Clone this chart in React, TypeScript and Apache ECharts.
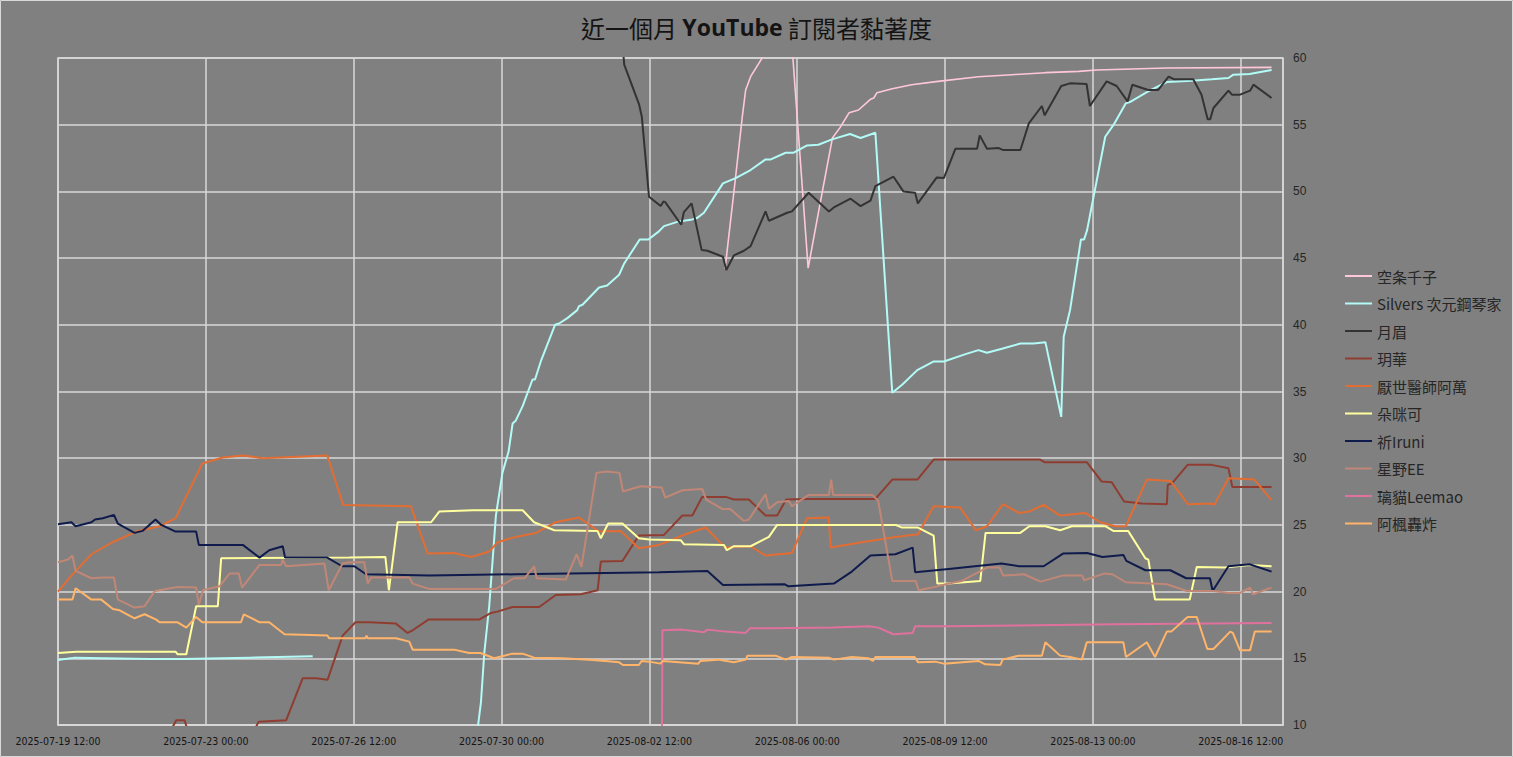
import React, { useEffect, useRef } from "react";
import * as echarts from "echarts";

// hours since 2025-07-19 12:00, value
const START_UTC = Date.UTC(2025, 6, 19, 12, 0);
const X_MAX_HOURS = 696;
const X_STEP_HOURS = 84;

const seriesNames = [
  "空条千子",
  "Silvers 次元鋼琴家",
  "月眉",
  "玥華",
  "厭世醫師阿萬",
  "朵咪可",
  "祈Iruni",
  "星野EE",
  "璃貓Leemao",
  "阿楓轟炸",
];

const seriesColors = [
  "#FFC8DA",
  "#B2FBF7",
  "#333333",
  "#8E3D30",
  "#E26D33",
  "#FFFF9E",
  "#0F1B4C",
  "#C08777",
  "#E0719D",
  "#FFB46A",
];

const kujo: any[] = [[379,44.2],[385,51.1],[388.8,55.6],[390.7,57.6],[393.5,58.6],[401,60.2],[417,61],[426.2,44.25],[432.3,48.6],[438,52.6],[440,54.0],[444.4,54.8],[449.5,55.9],[454.8,56.1],[461.6,56.9],[463.5,57.0],[465.3,57.4],[474,57.7],[485,58.0],[500,58.25],[523,58.6],[542,58.75],[561,58.9],[580,59.0],[590,59.1],[630,59.25],[689.5,59.3]];

const silvers: any[] = [[0,14.88],[9.5,15.05],[52,14.95],[70.8,14.95],[108.8,15.05],[144.7,15.15],[190,"-"],[233,4],[240.3,11.7],[242.2,15.4],[245,18.9],[248.8,25.7],[252.5,28.9],[256,30.5],[258.3,32.6],[260,32.8],[264,33.9],[269.6,35.9],[271,35.9],[274.3,37.25],[282.4,40.0],[284.7,40.1],[289.4,40.5],[295,41.1],[296,41.4],[298,41.5],[307.4,42.8],[312,42.95],[318.8,43.75],[321.7,44.6],[330.5,46.4],[335.4,46.4],[341.4,47.0],[344.3,47.4],[352.8,47.75],[360.4,47.9],[363,48.0],[367,48.4],[377.8,50.6],[385,51.0],[393.5,51.6],[402,52.4],[405,52.4],[413.4,52.9],[418,52.9],[425.6,53.45],[432,53.5],[439.8,53.9],[450,54.3],[456,54.0],[464.4,54.4],[474,34.9],[479.6,35.5],[488.2,36.6],[497.6,37.25],[503.3,37.25],[515.6,37.8],[523,38.1],[527.8,37.9],[536.3,38.2],[546.8,38.6],[554.3,38.6],[561,38.7],[570,33.1],[571.4,39.1],[575,41.1],[581.2,46.4],[583,46.4],[584.7,47.1],[595,54.1],[599.8,55.0],[606.7,56.6],[609,56.7],[619.4,57.5],[630,58.2],[644,58.3],[655.5,58.4],[665,58.5],[667.8,58.75],[677,58.8],[689.5,59.1]];

const yuemei: any[] = [[320.5,61.5],[321.7,59.5],[330.2,56.5],[331.7,55.6],[335.8,49.6],[342.4,48.9],[344,49.25],[345,49.2],[354.1,47.5],[355.6,48.45],[360,49.1],[365.7,45.6],[369,45.55],[377.8,45.1],[379.7,44.1],[384,45.2],[389.7,45.55],[393.5,45.9],[402,48.5],[403.9,47.8],[414.3,48.4],[417,48.5],[426.5,49.9],[438,48.5],[440.8,48.8],[450.3,49.45],[456,48.9],[461.6,49.3],[464.4,50.4],[474.7,51.1],[480.3,50.0],[487,49.9],[488.5,49.1],[499.3,51.05],[503.3,51.0],[509.9,53.2],[522.2,53.2],[523.7,54.2],[527.8,53.2],[534.5,53.25],[537,53.1],[546.8,53.1],[551.6,55.1],[559,56.4],[560.6,55.7],[570,57.9],[575,58.1],[584.4,58.05],[586.3,56.4],[595.8,58.25],[601.5,57.9],[607.7,56.75],[610.4,58.0],[619.4,57.6],[625,57.6],[631,58.6],[634.3,58.4],[645,58.4],[649.7,57.25],[653.2,55.4],[654.6,55.4],[656.5,56.25],[665,57.55],[667,57.25],[671.6,57.25],[677.3,57.55],[679.2,58.0],[689.5,57.0]];

const yuehua: any[] = [[0,8.5],[62,9.3],[64.5,9.7],[67.2,10.35],[71.9,10.35],[73.5,9.7],[111.5,9.6],[114,10.25],[129.6,10.35],[139,13.5],[146.6,13.5],[153.2,13.4],[161.7,16.7],[169,17.7],[177,17.7],[192,17.6],[198.6,16.9],[201.5,17.1],[210.4,17.9],[239.3,17.9],[246,18.4],[249.7,18.5],[258.2,18.85],[273.4,18.85],[282.8,19.75],[297,19.8],[306.6,20.1],[308.4,22.25],[320.7,22.3],[330,24.2],[344.3,24.25],[354.7,25.7],[360.4,25.7],[366,27.1],[379.3,27.1],[384,26.9],[392.5,26.9],[402,25.7],[408.6,25.7],[413.7,26.9],[426.6,26.95],[464.4,26.95],[474,28.4],[488.3,28.4],[497.5,29.9],[558,29.9],[560.5,29.7],[584.5,29.7],[593,28.25],[598.7,28.2],[605.7,26.75],[615.8,26.6],[630,26.55],[630.5,28.0],[632.8,28.1],[641.8,29.5],[655.5,29.5],[665,29.25],[667.2,27.85],[689.5,27.85]];

const awan: any[] = [[0,20.0],[7.6,21.2],[19,22.8],[31,23.7],[44.5,24.5],[57.8,24.9],[66.8,25.5],[82,29.6],[93.6,30.05],[105,30.2],[116,30.0],[153,30.2],[162,26.5],[200.5,26.4],[210,22.85],[225,22.9],[234.6,22.6],[245,23.0],[249.7,23.7],[260,24.1],[271.5,24.4],[282.8,25.2],[296,25.55],[307.4,24.5],[319.7,24.55],[330,23.25],[341.5,23.5],[356.6,24.3],[368,24.8],[379,23.3],[393.5,23.4],[402,22.7],[417,22.9],[425.6,25.5],[437.9,25.55],[439,23.3],[456.6,23.7],[475.8,24.1],[488.6,24.3],[497.5,26.4],[506,26.35],[512.6,26.3],[521.5,24.6],[527.8,24.9],[536.9,26.55],[546,25.9],[551.7,26.0],[560,26.5],[569.4,25.7],[583.6,25.9],[592,25.2],[600.6,24.9],[606.7,24.9],[618.6,28.4],[632,28.3],[642,26.55],[655.5,26.6],[657,26.5],[665,28.5],[679.7,28.4],[689.5,26.85]];

const domico: any[] = [[0,15.4],[10.4,15.5],[66.8,15.5],[68,15.3],[72.9,15.3],[78.5,18.9],[90.8,18.9],[92.7,22.5],[165.5,22.55],[186,22.6],[188,20.1],[193,25.2],[212,25.2],[216.6,26.0],[235.5,26.1],[264,26.1],[270.5,25.2],[282,24.6],[306.5,24.55],[308.4,24.0],[312.6,25.1],[320.7,25.1],[330,24.0],[335.8,23.9],[353.8,23.85],[355.6,23.55],[378.4,23.5],[380,23.1],[384,23.4],[393.5,23.4],[403.9,24.1],[408.6,25.0],[475.8,25.0],[479.6,24.8],[488.6,24.8],[497.5,24.2],[499.6,20.6],[506,20.6],[524,20.8],[527,24.4],[546.7,24.4],[551.9,24.9],[561,24.9],[569.4,24.6],[576,24.9],[595,24.9],[599.6,24.55],[608,24.55],[617.8,22.5],[619.5,22.4],[623.3,19.4],[643,19.4],[647,21.85],[663,21.8],[677,22.0],[689.5,21.9]];

const iruni: any[] = [[0,25.05],[7.6,25.2],[10,24.9],[19,25.2],[21,25.4],[25.5,25.5],[31.8,25.75],[34,25.1],[43.5,24.4],[48,24.55],[55.4,25.4],[58.7,25.0],[66.8,24.5],[78.5,24.5],[80,23.5],[105,23.5],[114.5,22.55],[120,23.1],[127.7,23.4],[129,22.55],[153,22.55],[161.4,21.9],[168.4,21.9],[175,21.3],[211,21.2],[260,21.3],[341.5,21.45],[369,21.55],[377.8,20.5],[413,20.55],[415,20.4],[440.8,20.6],[451,21.5],[461.6,22.7],[475.8,22.8],[485.6,23.3],[487,21.45],[506,21.7],[536,22.1],[546,21.9],[560,21.9],[571,22.85],[584.7,22.9],[593.4,22.6],[605.3,22.75],[607,22.3],[617.8,21.6],[632,21.6],[641,21.0],[654.5,21.0],[656,20.05],[665,21.9],[677,22.05],[689.5,21.5]];

const hoshino: any[] = [[0,22.2],[5.7,22.4],[8.2,22.7],[10,21.55],[19,21.0],[25.5,21.05],[31.8,21.05],[34,19.4],[43.5,18.8],[49.2,18.9],[55,20.05],[68,20.35],[78.5,20.3],[80,19.0],[82.3,20.1],[91.8,20.4],[97.4,21.35],[102.7,21.35],[104.6,20.3],[114.5,22.0],[126.8,22.0],[127.7,22.4],[129.6,21.9],[151.4,22.1],[153.8,20.1],[161.7,22.1],[165.5,22.2],[174,22.2],[176,20.6],[177.9,21.05],[199.6,21.05],[201.5,20.6],[211,20.2],[248.8,20.2],[259,21.0],[265,21.0],[270.5,21.9],[272,21.0],[288.5,20.9],[294.7,22.8],[297.4,21.85],[305.9,28.9],[312,29.0],[319,28.9],[321,27.5],[331,27.9],[343,27.8],[345,27.05],[354.7,27.6],[366,27.7],[368.3,26.9],[377.4,26.2],[382,26.2],[389.7,25.3],[392.5,25.4],[402,27.3],[403.9,26.2],[408.6,26.7],[415.3,26.8],[417,26.4],[426.5,27.25],[438,27.25],[439.3,28.4],[440.4,27.25],[462.6,27.25],[466,26.8],[474,20.8],[487.3,20.8],[489,20.1],[496.6,20.3],[506,20.6],[513.6,20.8],[527.8,21.8],[535,21.8],[537,21.2],[548.8,21.3],[558.3,20.75],[570.6,21.2],[582,21.2],[582.9,20.85],[594.3,21.35],[599,21.3],[606.7,20.7],[630,20.55],[641.3,20.05],[656.5,20.05],[665,19.9],[671.6,19.9],[677.3,20.3],[678.8,19.8],[689.5,20.3]];

const leemao: any[] = [[342.9,0],[343.4,17.1],[354.7,17.15],[367,16.95],[369,17.15],[379.3,17.0],[390.7,16.9],[393,17.25],[404,17.25],[440,17.3],[460.6,17.4],[466,17.3],[474.6,16.8],[485.6,16.9],[487,17.4],[506,17.4],[600.6,17.55],[689.5,17.65]];

const afeng: any[] = [[0,19.4],[8.2,19.4],[10,20.25],[19,19.4],[24.6,19.4],[31.2,18.7],[35,18.6],[43.5,18.0],[49.2,18.3],[55.8,17.9],[57.7,17.7],[68,17.7],[72.9,17.3],[78.5,18.1],[82,17.7],[104,17.7],[105.6,18.3],[114.5,17.7],[120,17.7],[128.7,16.8],[153.2,16.7],[154,16.5],[174.6,16.5],[175.3,16.7],[176,16.5],[192,16.5],[199.6,16.25],[201.5,15.65],[225,15.65],[233.6,15.4],[240,15.4],[247.8,15.0],[258,15.35],[264,15.35],[270.5,15.05],[286.6,15.0],[301.7,14.9],[311,14.8],[318.8,14.7],[321,14.5],[330,14.5],[331.6,14.8],[335.8,14.75],[342.3,14.6],[343.6,14.8],[363.8,14.6],[365,14.8],[375,14.9],[384,14.7],[390.8,14.9],[391.7,15.2],[407.7,15.2],[413.5,14.9],[417,15.1],[438,15.05],[440.8,14.9],[451,15.1],[460.6,15.0],[463,14.8],[464.4,15.1],[486.7,15.1],[488.6,14.7],[498.5,14.75],[503.2,14.6],[523,14.8],[526.8,14.55],[535.4,14.5],[536.7,14.9],[546,15.2],[559,15.2],[561,16.2],[569.4,15.2],[575,15.1],[581.7,14.9],[584.5,16.2],[605.3,16.2],[606.8,15.1],[618.6,16.2],[623.3,15.1],[630,17.0],[632.5,17.0],[641.8,18.1],[647,18.1],[653,15.7],[656.5,15.7],[666,17.0],[667.5,16.9],[671.6,15.6],[677.3,15.6],[680,17.0],[689.5,17.0]];

const seriesData = [kujo, silvers, yuemei, yuehua, awan, domico, iruni, hoshino, leemao, afeng];
const seriesWidths = [1.6, 2, 2, 2, 2, 2, 2, 2, 2, 2];

const pad = (n: number) => (n < 10 ? "0" + n : "" + n);
function hourLabel(h: number): string {
  if (Math.abs(h % X_STEP_HOURS) > 1e-6) return "";
  const d = new Date(START_UTC + h * 3600000);
  return `${d.getUTCFullYear()}-${pad(d.getUTCMonth() + 1)}-${pad(d.getUTCDate())} ${pad(d.getUTCHours())}:${pad(d.getUTCMinutes())}`;
}

export default function App() {
  const ref = useRef<HTMLDivElement>(null);
  useEffect(() => {
    if (!ref.current) return;
    const chart = echarts.init(ref.current, undefined, { renderer: "svg" });
    const gridColor = "#d9d9d9";
    chart.setOption({
      animation: false,
      backgroundColor: "#808080",
      title: {
        text: "{a|近一個月 }{b|YouTube}{a| 訂閱者黏著度}",
        left: "center",
        top: 10,
        textStyle: {
          fontWeight: "normal",
          rich: {
            a: { fontSize: 24, color: "#141414", fontWeight: "normal", fontFamily: "'Noto Sans CJK TC', sans-serif" },
            b: { fontSize: 23, color: "#141414", fontWeight: "bold", fontFamily: "'Open Sans', 'Noto Sans', sans-serif" },
          },
        },
      },
      legend: {
        orient: "vertical",
        left: 1345,
        top: 267,
        padding: 0,
        icon: "rect",
        itemWidth: 27,
        itemHeight: 2,
        itemGap: 9.5,
        data: seriesNames,
        textStyle: {
          color: "#262626",
          fontSize: 15,
          lineHeight: 18,
          fontFamily: "'Noto Sans CJK TC', sans-serif",
        },
      },
      grid: {
        left: 58,
        right: 230,
        top: 58,
        bottom: 32,
        show: true,
        borderColor: gridColor,
        borderWidth: 1.5,
        containLabel: false,
      },
      xAxis: {
        type: "value",
        min: 0,
        max: X_MAX_HOURS,
        interval: X_STEP_HOURS,
        axisLine: { show: true, lineStyle: { color: gridColor, width: 1.5 } },
        axisTick: { show: false },
        splitLine: { show: true, lineStyle: { color: gridColor, width: 1.5 } },
        axisLabel: {
          formatter: (v: number) => hourLabel(v),
          showMaxLabel: false,
          color: "#141414",
          fontSize: 10.5,
          margin: 10,
          fontFamily: "'Liberation Sans Narrow', 'DejaVu Sans Condensed', sans-serif",
        },
      },
      yAxis: {
        type: "value",
        position: "right",
        min: 10,
        max: 60,
        interval: 5,
        axisLine: { show: false },
        axisTick: { show: false },
        splitLine: { show: true, lineStyle: { color: gridColor, width: 1.5 } },
        axisLabel: {
          color: "#262626",
          fontSize: 12,
          margin: 10,
          fontFamily: "'Liberation Sans', sans-serif",
        },
      },
      series: seriesNames.map((name, i) => ({
        name,
        type: "line",
        data: seriesData[i],
        color: seriesColors[i],
        showSymbol: false,
        symbol: "none",
        clip: true,
        connectNulls: false,
        lineStyle: { width: seriesWidths[i], color: seriesColors[i] },
      })),
      graphic: [
        {
          type: "rect",
          shape: { x: 0.5, y: 0.5, width: 1512, height: 756 },
          style: { fill: "none", stroke: gridColor, lineWidth: 1 },
          silent: true,
        },
      ],
    });
    return () => chart.dispose();
  }, []);
  return (
    <div
      ref={ref}
      style={{ position: "absolute", left: 0, top: 0, width: 1513, height: 757 }}
    />
  );
}
